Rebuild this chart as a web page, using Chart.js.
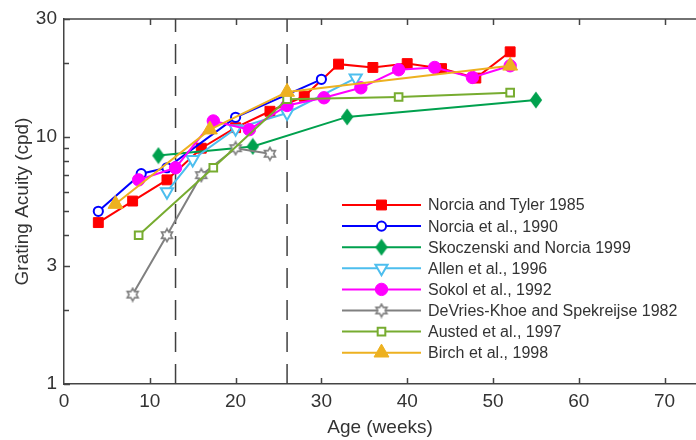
<!DOCTYPE html>
<html>
<head>
<meta charset="utf-8">
<script src="https://cdn.jsdelivr.net/npm/chart.js@4/dist/chart.umd.min.js"></script>
<style>
  html, body { margin: 0; padding: 0; background: #fff; }
  canvas { display: block; }
</style>
</head>
<body>
<canvas id="acuidad" width="696" height="440"></canvas>
<script>
// datos (semanas, cpd)
var tylerSemanas = [4, 8, 12, 16, 20, 24, 28, 32, 36, 40, 44, 48, 52];
var tylerAgudeza = [4.5, 5.5, 6.7, 9.0, 10.9, 12.7, 14.6, 19.7, 19.1, 19.8, 18.9, 17.3, 22.1];
var norciaSemanas = [4, 9, 12, 20, 30];
var norciaAgudeza = [5.0, 7.1, 7.5, 12.0, 17.1];
var skoSemanas = [11, 22, 33, 55];
var skoAgudeza = [8.4, 9.15, 12.05, 14.1];
var allenSemanas = [12, 15, 20, 26, 34];
var allenAgudeza = [6.0, 8.1, 10.8, 12.5, 17.3];
var sokolSemanas = [8.7, 13, 17.4, 21.6, 26, 30.3, 34.6, 39, 43.2, 47.6, 52];
var sokolAgudeza = [6.7, 7.5, 11.6, 10.7, 13.4, 14.4, 15.8, 18.7, 19.1, 17.4, 19.4];
var devriesSemanas = [8, 12, 16, 20, 24];
var devriesAgudeza = [2.3, 4.0, 7.0, 9.0, 8.55];
var austedSemanas = [8.7, 17.4, 26, 39, 52];
var austedAgudeza = [4.0, 7.5, 14.2, 14.5, 15.1];
var birchSemanas = [6, 17, 26, 52];
var birchAgudeza = [5.35, 10.7, 15.2, 19.4];

var nombres = ['Norcia and Tyler 1985', 'Norcia et al., 1990', 'Skoczenski and Norcia 1999',
    'Allen et al., 1996', 'Sokol et al., 1992', 'DeVries-Khoe and Spekreijse 1982',
    'Austed et al., 1997', 'Birch et al., 1998'];
var lineasVerticales = [13, 26];
var ticksX = [0, 10, 20, 30, 40, 50, 60, 70];
var ticksY = [1, 2, 3, 4, 5, 6, 7, 8, 9, 10, 20, 30];
var etiquetasY = [1, 3, 10, 30];

function pares(xs, ys) {
    let out = [];
    xs.forEach((x, i) => out.push({x: x, y: ys[i]}));
    return out;
}

// estrella de seis puntas (hueca)
function hacerEstrella() {
    let c = document.createElement('canvas');
    c.width = 16; c.height = 16;
    let g = c.getContext('2d');
    let R = 6.3, r = R / Math.sqrt(3);
    g.beginPath();
    for (let i = 0; i < 12; i++) {
        let a = -Math.PI / 2 + i * Math.PI / 6;
        let rr = i % 2 === 0 ? R : r;
        let px = 8 + rr * Math.cos(a), py = 8 + rr * Math.sin(a);
        if (i === 0) g.moveTo(px, py); else g.lineTo(px, py);
    }
    g.closePath();
    g.fillStyle = '#fff';
    g.fill();
    g.strokeStyle = '#808080';
    g.lineWidth = 1.6;
    g.stroke();
    return c;
}

// rombo alargado
function hacerRombo() {
    let c = document.createElement('canvas');
    c.width = 14; c.height = 18;
    let g = c.getContext('2d');
    g.beginPath();
    g.moveTo(7, 0.5); g.lineTo(13.2, 9); g.lineTo(7, 17.5); g.lineTo(0.8, 9);
    g.closePath();
    g.fillStyle = '#00a14e';
    g.fill();
    return c;
}

var estrella = hacerEstrella();
var rombo = hacerRombo();

var series = [
    {datos: pares(tylerSemanas, tylerAgudeza), color: '#ff0000', estilo: 'rect', radio: 7, relleno: '#ff0000', borde: 1, rot: 0},
    {datos: pares(norciaSemanas, norciaAgudeza), color: '#0000ff', estilo: 'circle', radio: 4.6, relleno: '#ffffff', borde: 2, rot: 0},
    {datos: pares(skoSemanas, skoAgudeza), color: '#00a14e', estilo: rombo, radio: 7, relleno: '#00a14e', borde: 1, rot: 0},
    {datos: pares(allenSemanas, allenAgudeza), color: '#4dbeee', estilo: 'triangle', radio: 7, relleno: '#ffffff', borde: 2, rot: 180},
    {datos: pares(sokolSemanas, sokolAgudeza), color: '#ff00ff', estilo: 'circle', radio: 6.2, relleno: '#ff00ff', borde: 1, rot: 0},
    {datos: pares(devriesSemanas, devriesAgudeza), color: '#808080', estilo: estrella, radio: 6, relleno: '#ffffff', borde: 1.6, rot: 0},
    {datos: pares(austedSemanas, austedAgudeza), color: '#77ac30', estilo: 'rect', radio: 5.4, relleno: '#ffffff', borde: 2, rot: 0},
    {datos: pares(birchSemanas, birchAgudeza), color: '#edb120', estilo: 'triangle', radio: 8.6, relleno: '#edb120', borde: 1, rot: 0}
];

var datasets = [];
series.forEach((s, i) => {
    datasets.push({
        label: nombres[i],
        data: s.datos,
        borderColor: s.color,
        borderWidth: 2,
        backgroundColor: s.relleno,
        pointStyle: s.estilo,
        pointRadius: s.radio,
        pointRotation: s.rot,
        pointBorderColor: s.color,
        pointBackgroundColor: s.relleno,
        pointBorderWidth: s.borde,
        tension: 0,
        fill: false,
        order: series.length - i
    });
});
lineasVerticales.forEach(v => {
    datasets.push({
        label: '',
        data: [{x: v, y: 1}, {x: v, y: 30}],
        borderColor: '#404040',
        borderWidth: 1.5,
        borderDash: [20, 12],
        pointRadius: 0,
        fill: false,
        order: 100
    });
});

var fuente = 'Liberation Sans, Arial, Helvetica, sans-serif';
var gris = '#333333';

// ticks hacia adentro, borde superior y leyenda
var marcoPlugin = {
    id: 'marco',
    afterDraw(chart) {
        let ctx = chart.ctx;
        let a = chart.chartArea;
        let sx = chart.scales.x, sy = chart.scales.y;
        ctx.save();
        ctx.strokeStyle = '#444';
        ctx.lineWidth = 1.5;
        ctx.beginPath();
        ctx.moveTo(a.left, a.top);
        ctx.lineTo(a.right, a.top);
        ticksX.forEach(t => {
            if (t === 0) return;
            let px = Math.round(sx.getPixelForValue(t)) + 0.5;
            ctx.moveTo(px, a.bottom);
            ctx.lineTo(px, a.bottom - 6);
            ctx.moveTo(px, a.top);
            ctx.lineTo(px, a.top + 6);
        });
        ticksY.forEach(t => {
            let py = Math.round(sy.getPixelForValue(t)) + 0.5;
            let largo = etiquetasY.indexOf(t) >= 0 ? 6 : 5;
            ctx.moveTo(a.left, py);
            ctx.lineTo(a.left + largo, py);
        });
        ctx.stroke();

        // leyenda
        let x0 = 342, x1 = 421, xm = 381.5, xt = 428, y0 = 205, paso = 21.1;
        ctx.font = '16px ' + fuente;
        ctx.textBaseline = 'middle';
        ctx.textAlign = 'left';
        series.forEach((s, i) => {
            let y = y0 + i * paso;
            ctx.strokeStyle = s.color;
            ctx.lineWidth = 2;
            ctx.setLineDash([]);
            ctx.beginPath();
            ctx.moveTo(x0, y);
            ctx.lineTo(x1, y);
            ctx.stroke();
            ctx.fillStyle = s.relleno;
            ctx.lineWidth = s.borde;
            Chart.helpers.drawPoint(ctx, {pointStyle: s.estilo, radius: s.radio, rotation: s.rot, borderWidth: s.borde}, xm, y);
            ctx.fillStyle = gris;
            ctx.fillText(nombres[i], xt, y + 1);
        });
        ctx.restore();
    }
};

var ctxAcuidad = document.getElementById('acuidad').getContext('2d');
var graficaAcuidad = new Chart(ctxAcuidad, {
    type: 'line',
    data: {datasets: datasets},
    options: {
        responsive: false,
        animation: false,
        devicePixelRatio: 1,
        layout: {autoPadding: false, padding: {top: 19, right: 0, left: 0, bottom: 0}},
        plugins: {legend: {display: false}, tooltip: {enabled: false}},
        scales: {
            x: {
                type: 'linear',
                min: 0,
                max: 73.66,
                afterFit: scale => { scale.height = 56; scale.paddingLeft = 0; scale.paddingRight = 0; },
                afterBuildTicks: scale => { scale.ticks = ticksX.map(v => ({value: v})); },
                grid: {display: false, drawTicks: false},
                border: {display: true, color: '#444', width: 1.5},
                ticks: {color: gris, font: {family: fuente, size: 19}, padding: 6, maxRotation: 0},
                title: {display: true, text: 'Age (weeks)', color: gris, font: {family: fuente, size: 19}, padding: {top: 0, bottom: 1}}
            },
            y: {
                type: 'logarithmic',
                min: 1,
                max: 30,
                afterFit: scale => { scale.width = 64; scale.paddingTop = 0; scale.paddingBottom = 0; },
                afterBuildTicks: scale => { scale.ticks = ticksY.map(v => ({value: v})); },
                grid: {display: false, drawTicks: false},
                border: {display: true, color: '#444', width: 1.5},
                ticks: {
                    color: gris,
                    font: {family: fuente, size: 19},
                    padding: 7,
                    autoSkip: false,
                    callback: v => etiquetasY.indexOf(v) >= 0 ? String(v) : ''
                },
                title: {display: true, text: 'Grating Acuity (cpd)', color: gris, font: {family: fuente, size: 19}, padding: {top: 11, bottom: 0}}
            }
        }
    },
    plugins: [marcoPlugin]
});
</script>
</body>
</html>
